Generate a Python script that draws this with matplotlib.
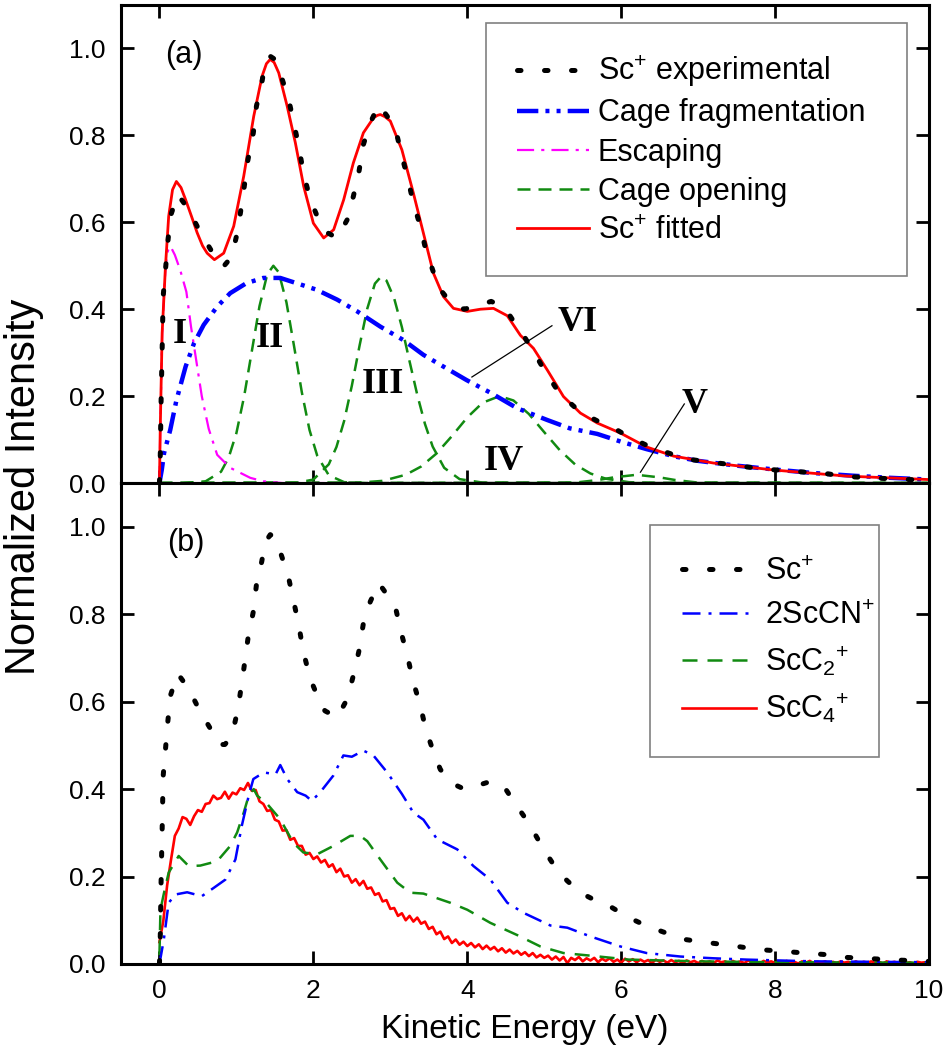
import numpy as np
import matplotlib
matplotlib.use('Agg')
import matplotlib.pyplot as plt
from matplotlib.ticker import FormatStrFormatter

plt.rcParams['font.family'] = ['Liberation Sans', 'DejaVu Sans']
plt.rcParams['mathtext.fontset'] = 'custom'
plt.rcParams['mathtext.rm'] = 'Liberation Sans'
plt.rcParams['mathtext.it'] = 'Liberation Sans:italic'
plt.rcParams['mathtext.bf'] = 'Liberation Sans:bold'

# Sc+ experimental spectrum (same in both panels)
exp_x = [0.0, 0.01, 0.02, 0.035, 0.048, 0.078, 0.108, 0.143, 0.186, 0.238,
         0.316, 0.40, 0.49, 0.575, 0.68, 0.77, 0.85, 0.94, 1.02, 1.09,
         1.15, 1.22, 1.26, 1.33, 1.37, 1.44, 1.50, 1.59, 1.68, 1.74,
         1.81, 1.87, 1.96, 2.05, 2.15, 2.31, 2.44, 2.52, 2.59, 2.65,
         2.74, 2.85, 2.96, 3.07, 3.15, 3.22, 3.30, 3.39, 3.46, 3.58,
         3.65, 3.79, 3.96, 4.13, 4.31, 4.48, 4.61, 4.74, 4.87, 5.0,
         5.17, 5.3, 5.47, 5.69, 5.88, 6.1, 6.33, 6.55, 6.83, 7.07,
         7.35, 7.63, 7.87, 8.1, 8.39, 8.69, 8.93, 9.26, 9.58, 9.9,
         10.0]
exp_y = [0.0, 0.053, 0.176, 0.306, 0.429, 0.49, 0.553, 0.614, 0.637, 0.664,
         0.645, 0.622, 0.591, 0.564, 0.533, 0.502, 0.502, 0.521, 0.583, 0.667,
         0.744, 0.806, 0.867, 0.921, 0.963, 0.982, 0.975, 0.932, 0.882, 0.833,
         0.775, 0.714, 0.652, 0.614, 0.579, 0.564, 0.606, 0.66, 0.714, 0.779,
         0.829, 0.871, 0.844, 0.813, 0.752, 0.706, 0.644, 0.591, 0.537, 0.475,
         0.445, 0.414, 0.40, 0.408, 0.418, 0.405, 0.37, 0.337, 0.30, 0.26,
         0.214, 0.19, 0.163, 0.143, 0.129, 0.106, 0.087, 0.073, 0.056, 0.05,
         0.044, 0.037, 0.032, 0.029, 0.025, 0.021, 0.015, 0.012, 0.009, 0.007,
         0.006]

# (a) fitted curve and its components
fit_x = [0, 0.01, 0.035, 0.078, 0.12, 0.17, 0.22, 0.28, 0.34, 0.42,
         0.49, 0.56, 0.62, 0.714, 0.835, 0.965, 1.095, 1.225, 1.333, 1.39,
         1.44, 1.49, 1.55, 1.66, 1.766, 1.874, 2.0, 2.134, 2.264, 2.394,
         2.52, 2.65, 2.78, 2.83, 2.87, 2.93, 3.0, 3.15, 3.30, 3.43,
         3.56, 3.69, 3.82, 4.0, 4.17, 4.34, 4.52, 4.69, 4.86, 5.04,
         5.25, 5.47, 5.69, 5.99, 6.33, 6.68, 7.2, 7.98, 8.93, 10]
fit_y = [0, 0.12, 0.345, 0.498, 0.614, 0.675, 0.694, 0.68, 0.652, 0.612,
         0.576, 0.546, 0.529, 0.514, 0.529, 0.591, 0.706, 0.844, 0.936, 0.965,
         0.975, 0.968, 0.944, 0.867, 0.783, 0.683, 0.598, 0.564, 0.583, 0.652,
         0.737, 0.806, 0.84, 0.846, 0.848, 0.843, 0.833, 0.767, 0.667, 0.575,
         0.483, 0.429, 0.402, 0.395, 0.40, 0.402, 0.385, 0.34, 0.31, 0.26,
         0.199, 0.161, 0.138, 0.115, 0.083, 0.062, 0.046, 0.030, 0.016, 0.008]

frag_x = [0, 0.03, 0.06, 0.14, 0.22, 0.34, 0.45, 0.575, 0.75, 0.92,
          1.13, 1.35, 1.57, 1.78, 2.04, 2.31, 2.57, 2.87, 3.17, 3.43,
          3.69, 3.99, 4.31, 4.65, 5.04, 5.33, 5.69, 6.0, 6.33, 6.7,
          7.0, 7.5, 8.0, 8.5, 9.0, 9.5, 10]
frag_y = [0, 0.03, 0.069, 0.122, 0.19, 0.268, 0.322, 0.364, 0.406, 0.437,
          0.46, 0.472, 0.472, 0.46, 0.445, 0.422, 0.395, 0.36, 0.329, 0.295,
          0.268, 0.237, 0.207, 0.172, 0.145, 0.126, 0.113, 0.095, 0.078, 0.061,
          0.051, 0.04, 0.031, 0.023, 0.017, 0.012, 0.008]

esc_x = [0, 0.01, 0.035, 0.08, 0.11, 0.143, 0.2, 0.27, 0.35, 0.41,
         0.48, 0.55, 0.64, 0.75, 0.92, 1.18, 1.35, 1.6, 10]
esc_y = [0, 0.115, 0.345, 0.5, 0.535, 0.545, 0.525, 0.49, 0.44, 0.36,
         0.28, 0.20, 0.125, 0.065, 0.035, 0.012, 0.004, 0, 0]

# cage opening peaks II, III, IV, V
op2_x = [0, 0.3, 0.6, 0.8, 0.9, 1.0, 1.1, 1.2, 1.3, 1.4, 1.48,
         1.55, 1.65, 1.75, 1.85, 1.95, 2.05, 2.2, 2.4, 2.7, 10]
op2_y = [0, 0, 0.004, 0.026, 0.059, 0.115, 0.199, 0.303, 0.407, 0.480, 0.500,
         0.485, 0.416, 0.314, 0.209, 0.122, 0.063, 0.018, 0.002, 0, 0]
op3_x = [0, 1.8, 2.0, 2.2, 2.3, 2.4, 2.5, 2.6, 2.7, 2.8, 2.88,
         2.95, 3.05, 3.15, 3.25, 3.35, 3.45, 3.55, 3.7, 3.9, 4.2, 10]
op3_y = [0, 0.001, 0.008, 0.043, 0.083, 0.143, 0.224, 0.316, 0.401, 0.459, 0.475,
         0.466, 0.425, 0.359, 0.280, 0.203, 0.136, 0.084, 0.035, 0.009, 0.001, 0]
op4_x = [0, 2.6, 2.9, 3.2, 3.4, 3.6, 3.8, 4.0, 4.2, 4.42,
         4.6, 4.8, 5.0, 5.2, 5.4, 5.6, 5.8, 6.1, 6.5, 10]
op4_y = [0, 0.001, 0.005, 0.019, 0.038, 0.068, 0.108, 0.151, 0.185, 0.200,
         0.190, 0.159, 0.117, 0.076, 0.043, 0.022, 0.010, 0.002, 0, 0]
op5_x = [0, 5.4, 5.7, 5.9, 6.2, 6.5, 6.7, 7.0, 10]
op5_y = [0, 0.001, 0.007, 0.013, 0.019, 0.013, 0.007, 0.001, 0]

# (b) fragment ions
cn_x = [0, 0.056, 0.12, 0.21, 0.36, 0.55, 0.705, 0.857, 0.987, 1.07,
        1.16, 1.22, 1.355, 1.51, 1.57, 1.66, 1.79, 1.9, 1.98, 2.09,
        2.26, 2.39, 2.5, 2.65, 2.78, 2.96, 3.15, 3.3, 3.43, 3.61,
        3.87, 4.08, 4.3, 4.52, 4.73, 5.08, 5.3, 5.6, 5.99, 6.33,
        6.77, 7.2, 7.63, 8.5, 10]
cn_y = [0, 0.055, 0.14, 0.159, 0.164, 0.155, 0.174, 0.193, 0.239, 0.316,
        0.385, 0.423, 0.438, 0.434, 0.455, 0.423, 0.393, 0.385, 0.373, 0.393,
        0.431, 0.477, 0.474, 0.488, 0.477, 0.438, 0.389, 0.346, 0.33, 0.285,
        0.262, 0.224, 0.193, 0.14, 0.117, 0.088, 0.083, 0.063, 0.04, 0.025,
        0.017, 0.013, 0.01, 0.006, 0.004]

c2_x = [0, 0.013, 0.056, 0.12, 0.25, 0.38, 0.53, 0.75, 0.92, 1.01,
        1.095, 1.16, 1.225, 1.27, 1.4, 1.57, 1.74, 1.87, 2.05, 2.26,
        2.48, 2.61, 2.7, 2.87, 3.09, 3.26, 3.43, 3.78, 4.0, 4.3,
        4.65, 4.95, 5.25, 5.6, 6.1, 7.0, 8.0, 10]
c2_y = [0.02, 0.124, 0.16, 0.209, 0.247, 0.224, 0.225, 0.235, 0.27, 0.301,
        0.346, 0.385, 0.40, 0.385, 0.366, 0.331, 0.277, 0.255, 0.251, 0.27,
        0.293, 0.293, 0.281, 0.239, 0.186, 0.163, 0.161, 0.14, 0.124, 0.094,
        0.066, 0.04, 0.025, 0.019, 0.01, 0.006, 0.004, 0.003]

# ScC4+ sampled every 0.05 eV from 0 to 10
c4_x = np.round(np.arange(201) * 0.05, 2)
c4_y = [0.050, 0.098, 0.180, 0.238, 0.293, 0.310, 0.336, 0.332, 0.318, 0.338,
        0.352, 0.348, 0.366, 0.368, 0.385, 0.377, 0.380, 0.394, 0.378, 0.392,
        0.388, 0.402, 0.398, 0.414, 0.396, 0.398, 0.372, 0.366, 0.350, 0.352,
        0.330, 0.326, 0.305, 0.306, 0.284, 0.288, 0.270, 0.270, 0.250, 0.254,
        0.240, 0.246, 0.232, 0.238, 0.222, 0.228, 0.210, 0.218, 0.200, 0.203,
        0.186, 0.194, 0.180, 0.190, 0.172, 0.175, 0.158, 0.162, 0.143, 0.146,
        0.126, 0.128, 0.110, 0.116, 0.100, 0.110, 0.097, 0.106, 0.092, 0.097,
        0.080, 0.085, 0.068, 0.074, 0.057, 0.063, 0.048, 0.056, 0.044, 0.051,
        0.041, 0.048, 0.038, 0.045, 0.034, 0.042, 0.033, 0.039, 0.029, 0.036,
        0.026, 0.033, 0.024, 0.030, 0.021, 0.027, 0.018, 0.025, 0.015, 0.021,
        0.014, 0.019, 0.010, 0.017, 0.008, 0.016, 0.002, 0.014, 0.009, 0.016,
        0.006, 0.013, 0.008, 0.014, 0.004, 0.012, 0.007, 0.013, 0.005, 0.010,
        0.003, 0.012, 0.006, 0.011, 0.004, 0.010, 0.005, 0.009, 0.002, 0.010,
        0.005, 0.008, 0.003, 0.009, 0.004, 0.007, 0.002, 0.008, 0.004, 0.007,
        0.002, 0.007, 0.003, 0.006, 0.002, 0.008, 0.004, 0.006, 0.001, 0.007,
        0.003, 0.006, 0.002, 0.008, 0.003, 0.005, 0.001, 0.007, 0.004, 0.006,
        0.002, 0.006, 0.003, 0.007, 0.002, 0.005, 0.001, 0.006, 0.003, 0.007,
        0.002, 0.005, 0.003, 0.006, 0.001, 0.005, 0.002, 0.006, 0.003, 0.005,
        0.002, 0.006, 0.001, 0.005, 0.003, 0.006, 0.002, 0.005, 0.001, 0.006,
        0.003, 0.005, 0.002, 0.006, 0.002, 0.004, 0.001, 0.005, 0.003, 0.004,
        0.002]

# roman numeral labels in (a): text, x, baseline y
peak_tags = ['I', 'II', 'III', 'IV', 'VI', 'V']
tag_x = [0.27, 1.43, 2.9, 4.48, 5.43, 6.96]
tag_y = [0.322, 0.314, 0.207, 0.03, 0.351, 0.161]

preto = 'black'
azul = '#0000ff'
magenta = '#ff00ff'
verde = '#118a11'
vermelho = '#ff0000'

dots = (0, (0.7, 4.7))

fig = plt.figure(figsize=(9.48, 10.51), dpi=100)
ax1 = fig.add_axes([0.1276, 0.5404, 0.8524, 0.4548])
ax2 = fig.add_axes([0.1276, 0.0828, 0.8524, 0.4576])

# ---- panel (a)
for gx, gy in [(op2_x, op2_y), (op3_x, op3_y), (op4_x, op4_y), (op5_x, op5_y)]:
    l_op, = ax1.plot(gx, gy, color=verde, lw=1.8, linestyle=(0, (5.2, 3.2)))
l_esc, = ax1.plot(esc_x, esc_y, color=magenta, lw=1.6, linestyle=(0, (7.7, 3.2, 1.4, 3.2)))
l_frag, = ax1.plot(frag_x, frag_y, color=azul, lw=3.2,
                   linestyle=(0, (4.8, 1.6, 0.9, 1.6, 0.9, 1.6)))
l_fit, = ax1.plot(fit_x, fit_y, color=vermelho, lw=2.0)
l_exp, = ax1.plot(exp_x, exp_y, color=preto, lw=3.6, linestyle=dots,
                  dash_capstyle='round')

for t, x, y in zip(peak_tags, tag_x, tag_y):
    ax1.text(x, y, t, ha='center', va='baseline', fontsize=26, fontweight='bold',
             family='Liberation Serif')
ax1.plot([5.10, 4.06], [0.362, 0.244], color='black', lw=0.9)
ax1.plot([6.82, 6.25], [0.182, 0.025], color='black', lw=0.9)
ax1.text(0.08, 0.985, '(a)', fontsize=22, va='center', ha='left')

leg1 = ax1.legend([l_exp, l_frag, l_esc, l_op, l_fit],
                  [r'Sc$^{+}$ experimental', 'Cage fragmentation', 'Escaping',
                   'Cage opening', r'Sc$^{+}$ fitted'],
                  loc='upper left', bbox_to_anchor=(0.452, 0.437, 0.521, 0.525),
                  mode='expand', borderaxespad=0, fontsize=22, handlelength=2.35,
                  handletextpad=0.3, labelspacing=0.3, borderpad=1.0,
                  fancybox=False, framealpha=1, edgecolor='#808080')
leg1.get_frame().set_linewidth(1.2)

# ---- panel (b)
l_c4, = ax2.plot(c4_x, c4_y, color=vermelho, lw=1.9)
l_c2, = ax2.plot(c2_x, c2_y, color=verde, lw=1.8, linestyle=(0, (6, 4)))
l_cn, = ax2.plot(cn_x, cn_y, color=azul, lw=1.8, linestyle=(0, (7.2, 3.2, 1.2, 3.2)))
l_sc, = ax2.plot(exp_x, exp_y, color=preto, lw=3.6, linestyle=dots,
                 dash_capstyle='round')
ax2.text(0.1, 0.963, '(b)', fontsize=22, va='center', ha='left')

leg2 = ax2.legend([l_sc, l_cn, l_c2, l_c4],
                  [r'Sc$^{+}$', r'2ScCN$^{+}$', r'ScC$_{2}{}^{+}$', r'ScC$_{4}{}^{+}$'],
                  loc='upper left', bbox_to_anchor=(0.655, 0.43, 0.283, 0.483),
                  mode='expand', borderaxespad=0, fontsize=22, handlelength=2.4,
                  handletextpad=0.3, labelspacing=0.45, borderpad=1.05,
                  fancybox=False, framealpha=1, edgecolor='#808080')
leg2.get_frame().set_linewidth(1.2)

for ax in [ax1, ax2]:
    ax.set_xlim(-0.5, 10)
    ax.set_ylim(0, 1.1)
    ax.set_xticks([0, 2, 4, 6, 8, 10])
    ax.set_yticks([0, 0.2, 0.4, 0.6, 0.8, 1.0])
    ax.yaxis.set_major_formatter(FormatStrFormatter('%.1f'))
    ax.tick_params(direction='in', length=9.5, width=2, top=True, right=True,
                   labelsize=19, pad=11)
    for s in ax.spines.values():
        s.set_linewidth(2.2)

ax1.tick_params(labelbottom=False)
ax2.set_xlabel('Kinetic Energy (eV)', fontsize=24, labelpad=8)
fig.text(0.025, 0.537, 'Normalized Intensity', rotation=90, fontsize=30,
         ha='center', va='center')

fig.savefig('out.png', dpi=100)
